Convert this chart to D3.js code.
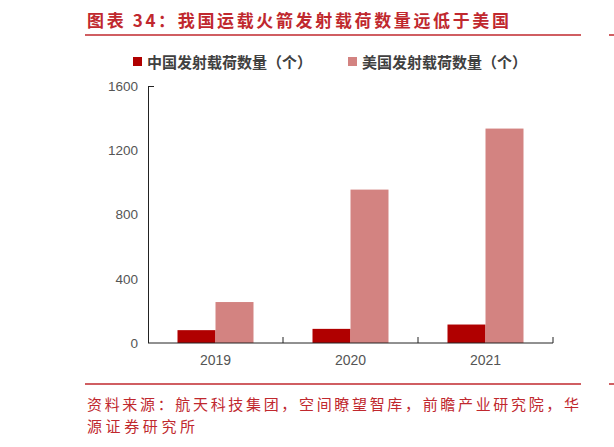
<!DOCTYPE html>
<html><head><meta charset="utf-8">
<script src="https://cdn.jsdelivr.net/npm/d3@7"></script>
<style>body{margin:0;background:#fff}</style></head>
<body><div id="chart"></div>
<script>
var years = ["2019", "2020", "2021"];
var chinaVals = [80, 88, 115];
var usVals = [255, 955, 1335];
var yTicks = [0, 400, 800, 1200, 1600];
var seriesNames = ["中国发射载荷数量（个）", "美国发射载荷数量（个）"];
var colors = ["#b00000", "#d38381"];

var svg = d3.select("#chart").append("svg").attr("width", 614).attr("height", 447);
var cjk = "'Noto Sans CJK SC', sans-serif";
var red = "#c0282e";

// title + rules
svg.append("text").attr("x", 87).attr("y", 27).attr("fill", red)
  .attr("font-family", cjk).attr("font-size", 17).attr("font-weight", "bold")
  .attr("textLength", 422)
  .text("图表 34：我国运载火箭发射载荷数量远低于美国");
[35, 384].forEach(function(yy) {
  svg.append("line").attr("x1", 85).attr("x2", 581).attr("y1", yy).attr("y2", yy)
    .attr("stroke", red).attr("stroke-width", 1.5);
  svg.append("line").attr("x1", 609).attr("x2", 614).attr("y1", yy).attr("y2", yy)
    .attr("stroke", red).attr("stroke-width", 1.5);
});

// legend
var lx = [133, 348];
seriesNames.forEach(function(n, i) {
  svg.append("rect").attr("x", lx[i]).attr("y", 57).attr("width", 9).attr("height", 9).attr("fill", colors[i]);
  svg.append("text").attr("x", lx[i] + 14).attr("y", 67.5).attr("fill", "#404040")
    .attr("font-family", cjk).attr("font-size", 15).attr("font-weight", "bold").text(n);
});

var x = d3.scaleBand().domain(years).range([148, 553]);
var y = d3.scaleLinear().domain([0, 1600]).range([343, 86]);
var bw = 38;

var g = svg.append("g");
g.selectAll(".cn").data(chinaVals).enter().append("rect")
  .attr("x", function(d, i) { return x(years[i]) + x.bandwidth() / 2 - bw; })
  .attr("y", function(d) { return y(d); }).attr("width", bw)
  .attr("height", function(d) { return y(0) - y(d); }).attr("fill", colors[0]);
g.selectAll(".us").data(usVals).enter().append("rect")
  .attr("x", function(d, i) { return x(years[i]) + x.bandwidth() / 2; })
  .attr("y", function(d) { return y(d); }).attr("width", bw)
  .attr("height", function(d) { return y(0) - y(d); }).attr("fill", colors[1]);

// axes
var yAx = svg.append("g").attr("transform", "translate(148,0)")
  .call(d3.axisLeft(y).tickValues(yTicks).tickFormat(d3.format("d")).tickSize(0).tickPadding(10));
yAx.select(".domain").remove();
yAx.selectAll("text").attr("font-family", "Arial, 'Liberation Sans', sans-serif").attr("font-size", 13.5).attr("fill", "#555");
svg.append("line").attr("x1", 148.5).attr("x2", 148.5).attr("y1", 86).attr("y2", 343).attr("stroke", "#222");
svg.append("line").attr("x1", 148).attr("x2", 154).attr("y1", 86.5).attr("y2", 86.5).attr("stroke", "#222");

var xAx = svg.append("g").attr("transform", "translate(0,343)")
  .call(d3.axisBottom(x).tickSize(0).tickPadding(12));
xAx.select(".domain").attr("stroke", "#222").attr("d", "M148,0H553");
xAx.selectAll("text").attr("font-family", "Arial, 'Liberation Sans', sans-serif").attr("font-size", 14).attr("fill", "#555");
var edges = years.map(function(d) { return x(d); }).concat([553]);
xAx.selectAll(".sep").data(edges.slice(1)).enter().append("line")
  .attr("x1", function(d) { return d; }).attr("x2", function(d) { return d; })
  .attr("y1", -6).attr("y2", 0).attr("stroke", "#222");

// footer
var foot = ["资料来源：航天科技集团，空间瞭望智库，前瞻产业研究院，华", "源证券研究所"];
var footLen = [492, 108];
foot.forEach(function(t, i) {
  svg.append("text").attr("x", 87).attr("y", 410 + i * 22).attr("fill", red)
    .attr("font-family", cjk).attr("font-size", 15).attr("textLength", footLen[i]).text(t);
});
</script></body></html>
